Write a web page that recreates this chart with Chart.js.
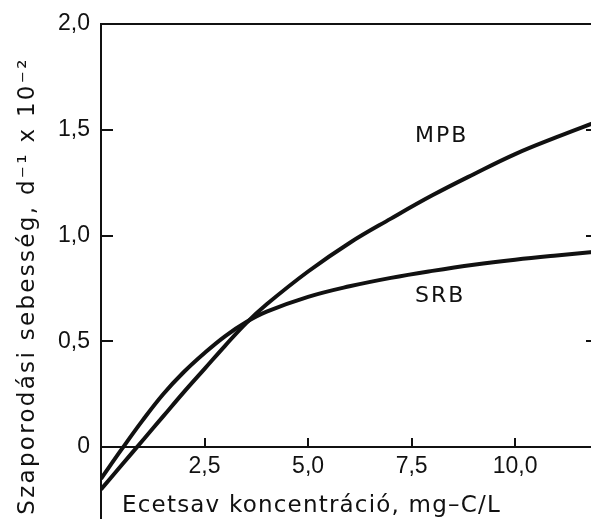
<!DOCTYPE html>
<html>
<head>
<meta charset="utf-8">
<script src="https://cdn.jsdelivr.net/npm/chart.js@4.4.1/dist/chart.umd.min.js"></script>
<style>
  html, body { margin: 0; padding: 0; background: #fff; overflow: hidden; }
  canvas { display: block; }
</style>
</head>
<body>
<canvas id="rateChart" width="600" height="519"></canvas>
<script>
// acetate concentration (mg-C/L)
const concentration = [0, 0.5, 1, 1.5, 2, 2.5, 3, 3.5, 4, 5, 6, 7, 8, 9, 10, 11, 12];
// growth rate, d^-1 x 10^-2
const mpbRate = [-0.20, -0.085, 0.03, 0.145, 0.26, 0.37, 0.48, 0.585, 0.675, 0.83, 0.965, 1.08, 1.19, 1.29, 1.385, 1.465, 1.54];
const srbRate = [-0.15, -0.01, 0.125, 0.25, 0.355, 0.445, 0.525, 0.59, 0.64, 0.71, 0.76, 0.80, 0.833, 0.862, 0.886, 0.906, 0.924];
const seriesNames = ['MPB', 'SRB'];
const xTitle = 'Ecetsav koncentráció, mg–C/L';
const yTitle = 'Szaporodási sebesség, d⁻¹ x 10⁻²';

const ink = '#111';

function toPoints(values) {
    return concentration.map(function (x, i) { return { x: x, y: values[i] }; });
}

function commaLabel(v) {
    if (v === 0) return '0';
    return v.toFixed(1).replace('.', ',');
}

// keep scale label overhang from shrinking the plot area
function noPadding(s) {
    s.paddingTop = 0;
    s.paddingBottom = 0;
    s.paddingLeft = 0;
    s.paddingRight = 0;
}

// series names and axis titles drawn as plain text on the canvas
const textPlugin = {
    id: 'texts',
    afterDraw(chart) {
        const ctx = chart.ctx;
        const xs = chart.scales.x;
        const ys = chart.scales.y;
        ctx.save();
        ctx.fillStyle = ink;
        ctx.textBaseline = 'alphabetic';
        ctx.textAlign = 'left';

        ctx.font = '22px "DejaVu Sans"';
        ctx.letterSpacing = '2px';
        ctx.fillText(seriesNames[0], xs.getPixelForValue(7.58), ys.getPixelForValue(1.44));
        ctx.fillText(seriesNames[1], xs.getPixelForValue(7.58), ys.getPixelForValue(0.685));

        ctx.font = '23px "DejaVu Sans"';
        ctx.letterSpacing = '1.2px';
        ctx.fillText(xTitle, 122, 512);

        ctx.letterSpacing = '2.3px';
        ctx.translate(28, 286);
        ctx.rotate(-Math.PI / 2);
        ctx.textAlign = 'center';
        ctx.textBaseline = 'middle';
        ctx.fillText(yTitle, 0, 0);
        ctx.restore();
    }
};

document.addEventListener('DOMContentLoaded', function () {
    const ctx = document.getElementById('rateChart').getContext('2d');

    const data = {
        datasets: [{
            label: seriesNames[0],
            data: toPoints(mpbRate),
            borderColor: ink,
            borderWidth: 4,
            pointRadius: 0,
            tension: 0.4,
            fill: false
        }, {
            label: seriesNames[1],
            data: toPoints(srbRate),
            borderColor: ink,
            borderWidth: 4,
            pointRadius: 0,
            tension: 0.4,
            fill: false
        }]
    };

    const config = {
        type: 'line',
        data: data,
        options: {
            responsive: false,
            animation: false,
            layout: { padding: { left: 0, top: 24, right: 2, bottom: 0 } },
            plugins: {
                legend: { display: false },
                tooltip: { enabled: false }
            },
            scales: {
                x: {
                    type: 'linear',
                    position: { y: 0 },
                    min: 0,
                    max: 12,
                    border: { display: true, color: ink, width: 2 },
                    grid: {
                        drawOnChartArea: false,
                        drawTicks: true,
                        tickLength: -10,
                        color: ink,
                        lineWidth: 2
                    },
                    ticks: {
                        stepSize: 2.5,
                        includeBounds: false,
                        maxRotation: 0,
                        padding: 16,
                        color: ink,
                        font: { family: 'Liberation Sans', size: 23 },
                        callback: function (v) { return v === 0 ? '' : commaLabel(v); }
                    },
                    afterFit: function (s) { s.height = 0; noPadding(s); }
                },
                x2: {
                    type: 'linear',
                    position: 'top',
                    min: 0,
                    max: 12,
                    border: { display: true, color: ink, width: 2 },
                    grid: { drawOnChartArea: false, drawTicks: false },
                    ticks: { display: false },
                    afterFit: function (s) { s.height = 0; noPadding(s); }
                },
                y: {
                    position: 'left',
                    min: -0.34,
                    max: 2.0,
                    border: { display: true, color: ink, width: 2 },
                    grid: {
                        drawOnChartArea: false,
                        drawTicks: true,
                        tickLength: -12,
                        color: ink,
                        lineWidth: 2
                    },
                    ticks: {
                        stepSize: 0.5,
                        includeBounds: false,
                        padding: 23,
                        color: ink,
                        font: { family: 'Liberation Sans', size: 23 },
                        callback: commaLabel
                    },
                    afterBuildTicks: function (s) {
                        s.ticks = s.ticks.filter(function (t) { return t.value >= 0; });
                    },
                    afterFit: function (s) { s.width = 101; noPadding(s); }
                },
                y2: {
                    position: 'right',
                    min: -0.34,
                    max: 2.0,
                    border: { display: true, color: ink, width: 2 },
                    grid: {
                        drawOnChartArea: false,
                        drawTicks: true,
                        tickLength: -12,
                        color: ink,
                        lineWidth: 2
                    },
                    ticks: { display: false, stepSize: 0.5, includeBounds: false },
                    afterBuildTicks: function (s) {
                        s.ticks = s.ticks.filter(function (t) { return t.value >= 0; });
                    },
                    afterFit: function (s) { s.width = 0; noPadding(s); }
                }
            }
        },
        plugins: [textPlugin]
    };

    new Chart(ctx, config);
});
</script>
</body>
</html>
